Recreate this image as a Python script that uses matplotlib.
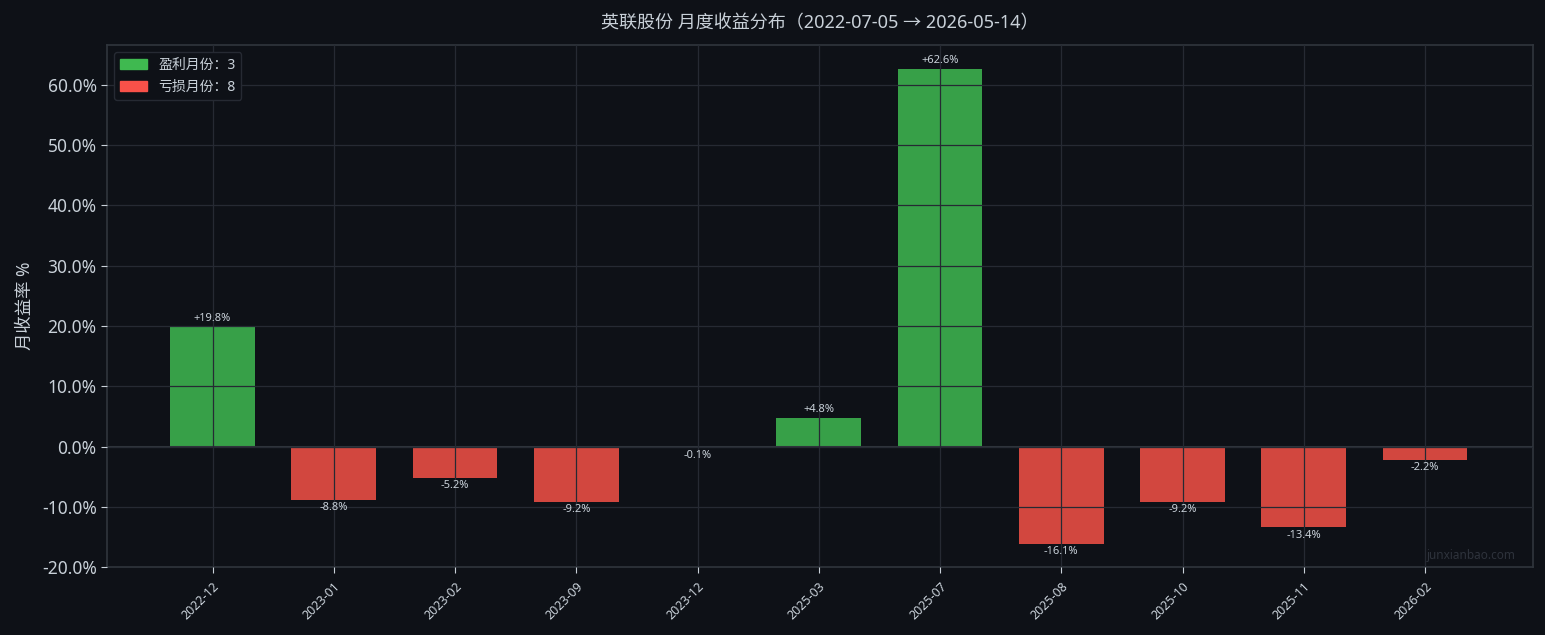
import numpy as np
import matplotlib
matplotlib.use("Agg")
import matplotlib.pyplot as plt
from matplotlib.patches import Patch
from matplotlib.ticker import FuncFormatter

plt.rcParams["font.family"] = ["Noto Sans", "Noto Sans CJK SC", "DejaVu Sans"]
plt.rcParams["axes.unicode_minus"] = False

# ── data ─────────────────────────────────────────────────────────────────────
months = ["2022-12", "2023-01", "2023-02", "2023-09", "2023-12", "2025-03",
          "2025-07", "2025-08", "2025-10", "2025-11", "2026-02"]
returns = [19.8, -8.8, -5.2, -9.2, -0.1, 4.8, 62.6, -16.1, -9.2, -13.4, -2.2]

BG = "#0e1117"
FG = "#c9d1d9"
GRID = "#262a33"
SPINE = "#30363d"
GREEN_BAR, RED_BAR = "#37a048", "#d2473f"
GREEN_LEG, RED_LEG = "#3fb950", "#f85149"

fig = plt.figure(figsize=(15.45, 6.35), dpi=100, facecolor=BG)
ax = fig.add_axes([0.0693, 0.107, 0.9229, 0.822])
ax.set_facecolor(BG)

x = np.arange(len(months))
vals = np.array(returns)
colors = [GREEN_BAR if v > 0 else RED_BAR for v in vals]
ax.bar(x, vals, width=0.7, color=colors, zorder=1)

ax.axhline(0, color=SPINE, lw=1.5, zorder=2)
ax.grid(True, color=GRID, lw=0.9, zorder=3)
ax.set_axisbelow(False)

for xi, v in zip(x, vals):
    if v >= 0:
        ax.text(xi, v + 0.5, f"+{v:.1f}%", ha="center", va="bottom",
                fontsize=8, color=FG, zorder=4)
    else:
        ax.text(xi, v - 0.4, f"{v:.1f}%", ha="center", va="top",
                fontsize=8, color=FG, zorder=4)

ax.set_xlim(-0.87, 10.89)
ax.set_ylim(-20, 66.6)
ax.set_yticks(np.arange(-20, 61, 10))
ax.yaxis.set_major_formatter(FuncFormatter(lambda v, _: f"{v:.1f}%"))
ax.set_xticks(x)
ax.set_xticklabels(months, rotation=45, ha="right", rotation_mode="anchor",
                   fontsize=9, color=FG)
ax.tick_params(axis="y", labelsize=12.5, colors=FG)
ax.tick_params(axis="x", colors=FG, pad=5)
ax.tick_params(color=FG, length=4)
for s in ax.spines.values():
    s.set_color(SPINE)
    s.set_linewidth(1.2)

ax.set_ylabel("月收益率 %", fontsize=12.5, color=FG, labelpad=6)
ax.set_title("英联股份 月度收益分布（2022-07-05 → 2026-05-14）", fontsize=13,
             color=FG, pad=12)

n_up = int((vals > 0).sum())
n_down = int((vals < 0).sum())
handles = [Patch(color=GREEN_LEG, label=f"盈利月份：{n_up}"),
           Patch(color=RED_LEG, label=f"亏损月份：{n_down}")]
leg = ax.legend(handles=handles, loc="upper left", fontsize=10,
                facecolor=BG, edgecolor=GRID, labelcolor=FG, framealpha=1)

ax.text(0.988, 0.01, "junxianbao.com", transform=ax.transAxes, ha="right",
        va="bottom", fontsize=8.5, color="#2e333c")

fig.savefig("out.png", dpi=100, facecolor=BG)
